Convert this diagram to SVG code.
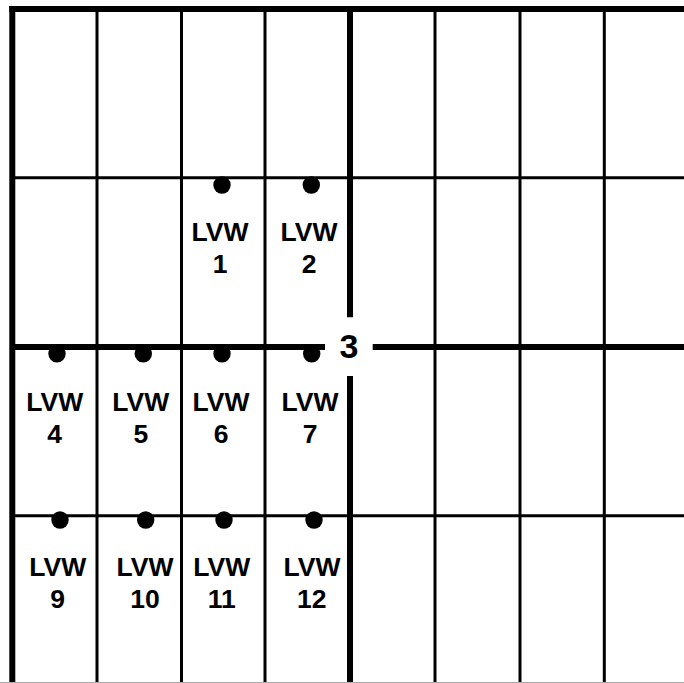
<svg xmlns="http://www.w3.org/2000/svg" width="684" height="683" viewBox="0 0 684 683">
<style>
.thin{stroke:#000;stroke-width:3;fill:none}
.thick{stroke:#000;stroke-width:6;fill:none}
.lbl{font-family:"Liberation Sans",Arial,sans-serif;font-weight:bold;font-size:26.5px;text-anchor:middle;fill:#000}
.big{font-family:"Liberation Sans",Arial,sans-serif;font-weight:bold;font-size:34px;text-anchor:middle;fill:#000}
.dot{fill:#000}
</style>
<rect width="684" height="683" fill="#fff"/>
<g id="grid">
<line class="thin" x1="97" y1="9" x2="97" y2="683"/>
<line class="thin" x1="181.5" y1="9" x2="181.5" y2="683"/>
<line class="thin" x1="265" y1="9" x2="265" y2="683"/>
<line class="thin" x1="435" y1="9" x2="435" y2="683"/>
<line class="thin" x1="520" y1="9" x2="520" y2="683"/>
<line class="thin" x1="604.3" y1="9" x2="604.3" y2="683"/>
<line class="thin" x1="12" y1="177.7" x2="684" y2="177.7"/>
<line class="thin" x1="12" y1="515.7" x2="684" y2="515.7"/>
<line class="thick" x1="12" y1="347" x2="325" y2="347"/>
<line class="thick" x1="372.7" y1="347" x2="684" y2="347"/>
<line class="thick" x1="350" y1="9" x2="350" y2="317.3"/>
<line class="thick" x1="350" y1="376" x2="350" y2="683"/>
<line class="thick" x1="12.3" y1="6" x2="12.3" y2="683"/>
<line class="thick" x1="9.3" y1="9" x2="684" y2="9"/>
<line x1="0" y1="682.5" x2="684" y2="682.5" stroke="#aaa" stroke-width="1"/>
</g>
<g id="label-3"><text class="big" x="349" y="358.3">3</text></g>
<g id="lvw1"><circle class="dot" cx="222" cy="185" r="8.7"/><text class="lbl" x="220" y="241">LVW</text><text class="lbl" x="220" y="273">1</text></g>
<g id="lvw2"><circle class="dot" cx="311.3" cy="185" r="8.7"/><text class="lbl" x="309" y="241">LVW</text><text class="lbl" x="309" y="273">2</text></g>
<g id="lvw4"><circle class="dot" cx="57" cy="353.8" r="8.7"/><text class="lbl" x="54.7" y="411">LVW</text><text class="lbl" x="54.7" y="442.7">4</text></g>
<g id="lvw5"><circle class="dot" cx="143.3" cy="353.8" r="8.7"/><text class="lbl" x="140.8" y="411">LVW</text><text class="lbl" x="140.8" y="442.7">5</text></g>
<g id="lvw6"><circle class="dot" cx="222" cy="353.8" r="8.7"/><text class="lbl" x="221" y="411">LVW</text><text class="lbl" x="221" y="442.7">6</text></g>
<g id="lvw7"><circle class="dot" cx="311.7" cy="353.8" r="8.7"/><text class="lbl" x="310" y="411">LVW</text><text class="lbl" x="310" y="442.7">7</text></g>
<g id="lvw9"><circle class="dot" cx="60" cy="520" r="8.7"/><text class="lbl" x="57.7" y="576">LVW</text><text class="lbl" x="57.5" y="608.3">9</text></g>
<g id="lvw10"><circle class="dot" cx="145.7" cy="520" r="8.7"/><text class="lbl" x="145" y="576">LVW</text><text class="lbl" x="145" y="608.3">10</text></g>
<g id="lvw11"><circle class="dot" cx="224" cy="520" r="8.7"/><text class="lbl" x="221.7" y="576">LVW</text><text class="lbl" x="221.7" y="608.3">11</text></g>
<g id="lvw12"><circle class="dot" cx="314" cy="520" r="8.7"/><text class="lbl" x="312" y="576">LVW</text><text class="lbl" x="311.7" y="608.3">12</text></g>
</svg>
